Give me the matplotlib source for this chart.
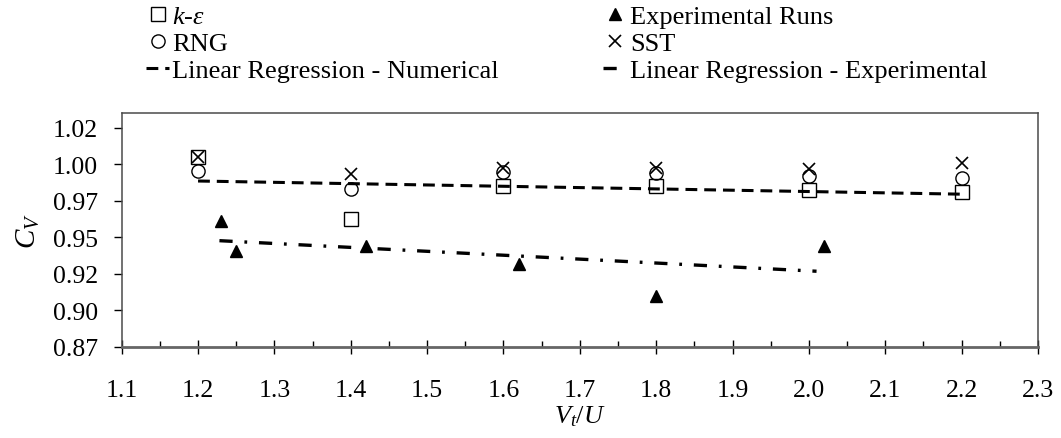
import matplotlib
matplotlib.use("Agg")
import matplotlib.pyplot as plt
from matplotlib.ticker import FixedLocator, FixedFormatter, MultipleLocator

plt.rcParams['font.family'] = ['Liberation Serif', 'DejaVu Serif']
plt.rcParams['mathtext.fontset'] = 'custom'
plt.rcParams['mathtext.rm'] = 'Liberation Serif'
plt.rcParams['mathtext.it'] = 'Liberation Serif:italic'
plt.rcParams['lines.scale_dashes'] = False

# numerical runs (CFD)
x_num = [1.2, 1.4, 1.6, 1.8, 2.0, 2.2]
cv_ke = [1.0047, 0.9628, 0.9849, 0.9849, 0.9822, 0.9808]
cv_rng = [0.9951, 0.9833, 0.9949, 0.9938, 0.9920, 0.9906]
cv_sst = [1.0047, 0.9931, 0.9972, 0.9977, 0.9965, 1.0011]

# experimental runs
x_exp = [1.23, 1.25, 1.42, 1.62, 1.80, 2.02]
cv_exp = [0.9612, 0.9407, 0.9443, 0.9316, 0.9099, 0.9443]

# regression lines (end points)
reg_num_x = [1.2, 2.2]
reg_num_y = [0.9885, 0.9795]
reg_exp_x = [1.228, 2.01]
reg_exp_y = [0.9477, 0.9268]

yticks = [0.875, 0.90, 0.925, 0.95, 0.975, 1.00, 1.025]
ytick_labels = ['0.87', '0.90', '0.92', '0.95', '0.97', '1.00', '1.02']

fig = plt.figure(figsize=(10.61, 4.39), dpi=100)
ax = fig.add_axes([0.1147, 0.2073, 0.8636, 0.533])

h_ke, = ax.plot(x_num, cv_ke, ls='none', marker='s', ms=9.5, mfc='white',
                mec='black', mew=1.0, label=r'$k$-$\varepsilon$')
h_rng, = ax.plot(x_num, cv_rng, ls='none', marker='o', ms=9.5, mfc='none',
                 mec='black', mew=1.0, label='RNG')
h_sst, = ax.plot(x_num, cv_sst, ls='none', marker='x', ms=9, mec='black',
                 mew=1.2, label='SST')
h_exp, = ax.plot(x_exp, cv_exp, ls='none', marker='^', ms=9, color='black',
                 label='Experimental Runs')
h_rn, = ax.plot(reg_num_x, reg_num_y, color='black', lw=2.2,
                dashes=(8.5, 5), label='Linear Regression - Numerical')
h_re, = ax.plot(reg_exp_x, reg_exp_y, color='black', lw=2.4,
                dashes=(9.5, 8.5, 2, 8.5),
                label='Linear Regression - Experimental')

ax.set_xlim(1.1, 2.3)
ax.set_ylim(0.875, 1.035)
ax.xaxis.set_major_locator(MultipleLocator(0.1))
ax.xaxis.set_minor_locator(MultipleLocator(0.05))
ax.xaxis.set_major_formatter(plt.FormatStrFormatter('%.1f'))
ax.yaxis.set_major_locator(FixedLocator(yticks))
ax.yaxis.set_major_formatter(FixedFormatter(ytick_labels))

ax.tick_params(axis='y', direction='out', length=6, width=1, pad=11,
               labelsize=18.5, right=False)
ax.tick_params(axis='x', which='major', direction='inout', length=10,
               width=1, pad=18, labelsize=18.5, top=False)
ax.tick_params(axis='x', which='minor', direction='in', length=4.5,
               width=1, top=False)

for s in ['top', 'right', 'left']:
    ax.spines[s].set_color('#4a4a4a')
    ax.spines[s].set_linewidth(1.1)
ax.spines['bottom'].set_color('#666666')
ax.spines['bottom'].set_linewidth(2)

ax.set_ylabel(r'$C_V$', fontsize=21, labelpad=8)
ax.set_xlabel(r'$V_t/U$', fontsize=19, labelpad=2)

handles = [h_ke, h_rng, h_rn, h_exp, h_sst, h_re]
fig.legend(handles=handles, labels=[h.get_label() for h in handles],
           ncol=2, loc='upper left', bbox_to_anchor=(143 / 1061, 1 - 3 / 439),
           frameon=False, fontsize=19, borderpad=0.1, borderaxespad=0,
           handlelength=0.9, handletextpad=0.1, labelspacing=0.13,
           columnspacing=3.97)

fig.savefig('out.png', dpi=100)
plt.close('all')
